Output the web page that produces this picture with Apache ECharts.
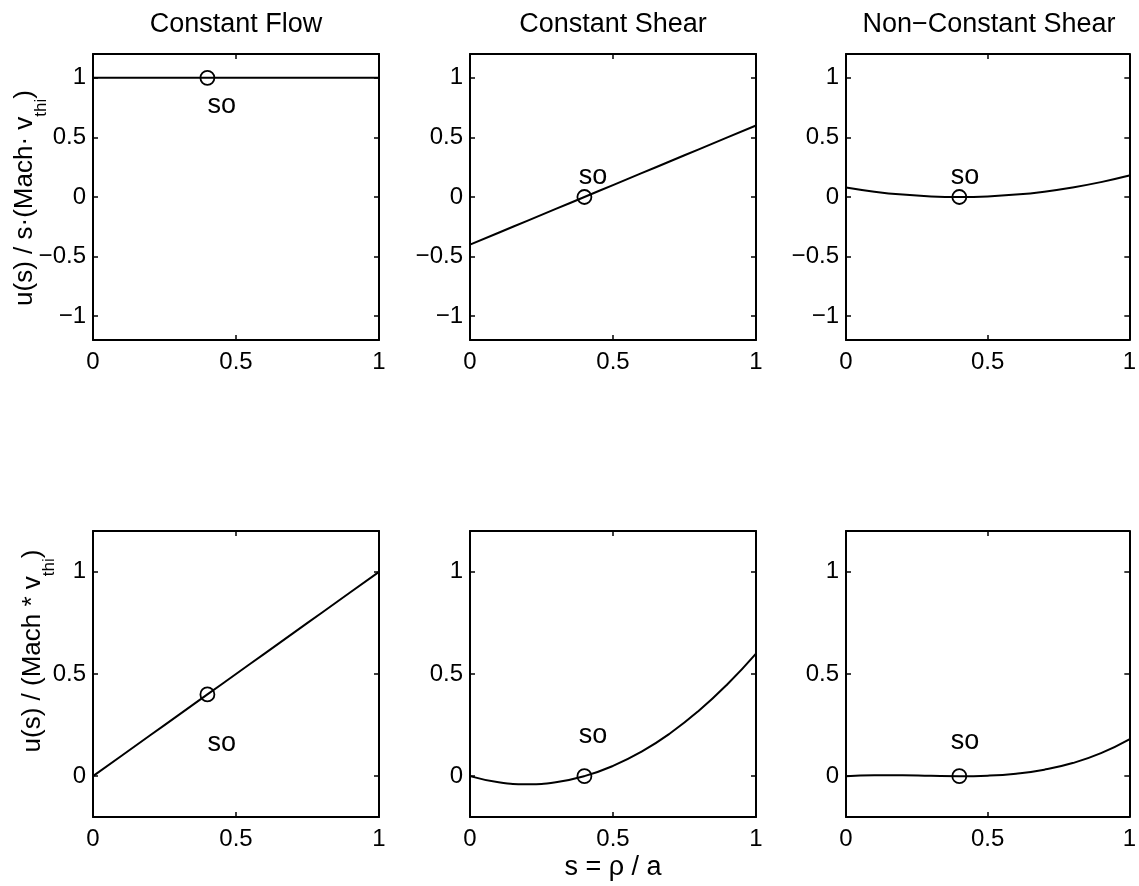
<!DOCTYPE html>
<html>
<head>
<meta charset="utf-8">
<script src="https://cdn.jsdelivr.net/npm/echarts@6/dist/echarts.min.js"></script>
<style>
html, body { margin: 0; background: #fff; }
#main { width: 1139px; height: 886px; }
</style>
</head>
<body>
<div id="main"></div>
<script>
// sample positions along s
var xs = [0, 0.1, 0.2, 0.3, 0.4, 0.5, 0.6, 0.7, 0.8, 0.9, 1];

// top row: u(s) / s(Mach v_thi)
var topFlow = [1, 1, 1, 1, 1, 1, 1, 1, 1, 1, 1];
var topShear = [-0.4, -0.3, -0.2, -0.1, 0, 0.1, 0.2, 0.3, 0.4, 0.5, 0.6];
var topNonConst = [0.08, 0.045, 0.02, 0.005, 0, 0.005, 0.02, 0.045, 0.08, 0.125, 0.18];

// bottom row: u(s) / (Mach v_thi)
var botFlow = [0, 0.1, 0.2, 0.3, 0.4, 0.5, 0.6, 0.7, 0.8, 0.9, 1];
var botShear = [0, -0.03, -0.04, -0.03, 0, 0.05, 0.12, 0.21, 0.32, 0.45, 0.6];
var botNonConst = [0, 0.0045, 0.004, 0.0015, 0, 0.0025, 0.012, 0.0315, 0.064, 0.1125, 0.18];

var curves = [topFlow, topShear, topNonConst, botFlow, botShear, botNonConst];

// the "so" point and its label
var markerX = 0.4;
var markerY = [1, 0, 0, 0.4, 0, 0];
var soX = [0.45, 0.43, 0.42, 0.45, 0.43, 0.42];
var soY = [0.77, 0.175, 0.17, 0.16, 0.2, 0.17];

var titles = ['Constant Flow', 'Constant Shear', 'Non\u2212Constant Shear'];
var xTicks = [0, 0.5, 1];
var topTicks = [-1, -0.5, 0, 0.5, 1];
var botTicks = [0, 0.5, 1];
var topRange = [-1.2, 1.2];
var botRange = [-0.2, 1.2];

var FONT = 'Liberation Sans';
var colLeft = [93, 470, 846];
var rowTop = [54, 531];
var plotW = 286, plotH = 286;

var chart = echarts.init(document.getElementById('main'));

function fmt(v) {
  return String(v).replace('-', '\u2212');
}

var grids = [], xAxes = [], yAxes = [], series = [];
for (var i = 0; i < 6; i++) {
  var row = Math.floor(i / 3), col = i % 3;
  var yr = row === 0 ? topRange : botRange;
  var yt = row === 0 ? topTicks : botTicks;
  grids.push({ left: colLeft[col], top: rowTop[row], width: plotW, height: plotH });

  var lineStyle = { color: '#000', width: 2 };
  var tickStyle = { inside: true, length: 5, lineStyle: { color: '#000', width: 1.5 } };

  xAxes.push({
    type: 'value', gridIndex: i, position: 'bottom', min: 0, max: 1,
    axisLine: { onZero: false, lineStyle: lineStyle },
    axisTick: Object.assign({ customValues: xTicks }, tickStyle),
    axisLabel: { customValues: xTicks, formatter: fmt, color: '#000', fontFamily: FONT, fontSize: 24, margin: 10 },
    splitLine: { show: false }
  });
  xAxes.push({
    type: 'value', gridIndex: i, position: 'top', min: 0, max: 1,
    axisLine: { onZero: false, lineStyle: lineStyle },
    axisTick: Object.assign({ customValues: xTicks }, tickStyle),
    axisLabel: { show: false },
    splitLine: { show: false }
  });
  yAxes.push({
    type: 'value', gridIndex: i, position: 'left', min: yr[0], max: yr[1],
    axisLine: { show: true, onZero: false, lineStyle: lineStyle },
    axisTick: Object.assign({ show: true, customValues: yt }, tickStyle),
    axisLabel: { customValues: yt, formatter: fmt, color: '#000', fontFamily: FONT, fontSize: 24, margin: 7 },
    splitLine: { show: false }
  });
  yAxes.push({
    type: 'value', gridIndex: i, position: 'right', min: yr[0], max: yr[1],
    axisLine: { show: true, onZero: false, lineStyle: lineStyle },
    axisTick: Object.assign({ show: true, customValues: yt }, tickStyle),
    axisLabel: { show: false },
    splitLine: { show: false }
  });

  var xi = 2 * i, yi = 2 * i;
  series.push({
    type: 'line', xAxisIndex: xi, yAxisIndex: yi, smooth: true, showSymbol: false,
    lineStyle: { color: '#000', width: 2 },
    data: xs.map(function (x, k) { return [x, curves[i][k]]; }),
    silent: true
  });
  series.push({
    type: 'scatter', xAxisIndex: xi, yAxisIndex: yi, symbol: 'circle', symbolSize: 14,
    itemStyle: { color: 'rgba(0,0,0,0)', borderColor: '#000', borderWidth: 1.8, opacity: 1 },
    data: [[markerX, markerY[i]]],
    silent: true, z: 3
  });
  series.push({
    type: 'scatter', xAxisIndex: xi, yAxisIndex: yi, symbolSize: 1,
    itemStyle: { color: 'rgba(0,0,0,0)', opacity: 1 },
    label: { show: true, position: 'inside', formatter: 'so', color: '#000', fontFamily: FONT, fontSize: 27, textBorderWidth: 0 },
    data: [[soX[i], soY[i]]],
    silent: true
  });
}

// rotated y-axis names with a lowered subscript
var measure = document.createElement('canvas').getContext('2d');
function textWidth(t, size) {
  measure.font = size + 'px "' + FONT + '"';
  return measure.measureText(t).width;
}
function yName(cx, cy, main, sub, tail) {
  var w1 = textWidth(main, 26), w2 = textWidth(sub, 17), w3 = textWidth(tail, 26);
  var x0 = -(w1 + w2 + w3) / 2;
  var base = { fontFamily: FONT, fill: '#000', textAlign: 'left', textVerticalAlign: 'middle' };
  return {
    type: 'group', x: cx, y: cy, rotation: Math.PI / 2,
    children: [
      { type: 'text', x: x0, y: 0, style: Object.assign({ text: main, fontSize: 26 }, base) },
      { type: 'text', x: x0 + w1, y: 16, style: Object.assign({ text: sub, fontSize: 17 }, base) },
      { type: 'text', x: x0 + w1 + w2, y: 0, style: Object.assign({ text: tail, fontSize: 26 }, base) }
    ]
  };
}

var graphics = [];
titles.forEach(function (t, c) {
  graphics.push({
    type: 'text', x: colLeft[c] + plotW / 2, y: 25,
    style: { text: t, fontFamily: FONT, fontSize: 27, fill: '#000', textAlign: 'center', textVerticalAlign: 'middle' }
  });
});
graphics.push(yName(25, 198, 'u(s) / s\u00b7(Mach\u00b7 v', 'thi', ')'));
graphics.push(yName(33, 651, 'u(s) / (Mach * v', 'thi', ')'));
graphics.push({
  type: 'text', x: colLeft[1] + plotW / 2, y: 868,
  style: { text: 's = \u03c1 / a', fontFamily: FONT, fontSize: 27, fill: '#000', textAlign: 'center', textVerticalAlign: 'middle' }
});

chart.setOption({
  animation: false,
  backgroundColor: '#fff',
  grid: grids,
  xAxis: xAxes,
  yAxis: yAxes,
  series: series,
  graphic: graphics
});
</script>
</body>
</html>
